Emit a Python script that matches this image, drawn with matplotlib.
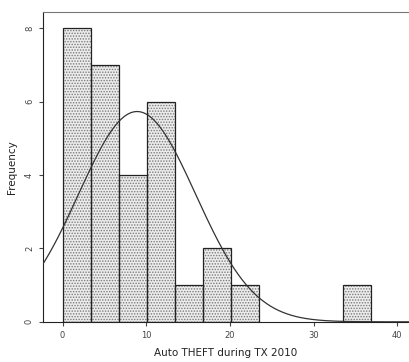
import numpy as np
import matplotlib
matplotlib.use("Agg")
import matplotlib.pyplot as plt

# histogram of auto thefts (SPSS-style with normal curve)
bin_start = 0.0
bin_width = 3.35
counts = [8, 7, 4, 6, 1, 2, 1, 0, 0, 0, 1]
curve_mean = 8.9
curve_sd = 7.0
n_obs = 30

x_ticks = [0, 10, 20, 30, 40]
y_ticks = [0, 2, 4, 6, 8]

plt.rcParams["font.family"] = "DejaVu Sans"
plt.rcParams["hatch.linewidth"] = 0.7

fig = plt.figure(figsize=(4.09, 3.62), dpi=100)
ax = fig.add_axes([0.105, 0.111, 0.895, 0.856])

lefts = bin_start + bin_width * np.arange(len(counts))
heights = np.array(counts, dtype=float)
keep = heights > 0

ax.bar(lefts[keep], heights[keep], width=bin_width, align="edge",
       facecolor="#ececec", edgecolor="#7a7a7a", hatch="......",
       linewidth=0, zorder=2)
ax.bar(lefts[keep], heights[keep], width=bin_width, align="edge",
       fill=False, edgecolor="#222222", linewidth=0.9, zorder=3)

xs = np.linspace(-2.5, 41.5, 400)
scale = n_obs * bin_width / (curve_sd * np.sqrt(2 * np.pi))
ys = scale * np.exp(-0.5 * ((xs - curve_mean) / curve_sd) ** 2)
ax.plot(xs, ys, color="#333333", linewidth=0.9, zorder=4)

ax.set_xlim(-2.35, 41.4)
ax.set_ylim(0, 8.44)
ax.set_xticks(x_ticks)
ax.set_yticks(y_ticks)
ax.tick_params(axis="both", direction="out", length=3, width=0.8,
               labelsize=6, colors="#444444")
for lab in ax.get_yticklabels():
    lab.set_rotation(90)
    lab.set_va("center")

ax.spines["right"].set_visible(False)
ax.spines["top"].set_linestyle((0, (1, 1)))
ax.spines["top"].set_color("#777777")
ax.spines["left"].set_color("#222222")
ax.spines["bottom"].set_color("#222222")

ax.set_xlabel("Auto THEFT during TX 2010", fontsize=7.5, labelpad=6,
              color="#222222")
ax.set_ylabel("Frequency", fontsize=7.5, labelpad=6, color="#222222")

fig.savefig("out.png", dpi=100)
